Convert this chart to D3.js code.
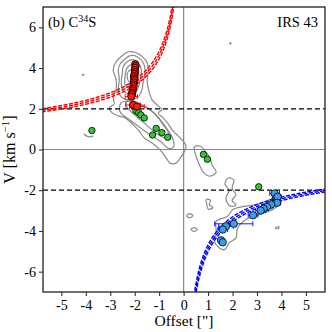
<!DOCTYPE html>
<html><head><meta charset="utf-8">
<script src="https://cdn.jsdelivr.net/npm/d3@7"></script>
<style>body{margin:0;background:#fff}svg{display:block}text{font-family:"Liberation Serif","Times New Roman",serif;fill:#000}</style>
</head><body>
<script>
// ---- data ----
const xTicks = [-5,-4,-3,-2,-1,0,1,2,3,4,5];
const yTicks = [-6,-4,-2,0,2,4,6];
const refLevels = [2,-2];
// Keplerian model curves: v = k / sqrt(|offset|) (three lines of the uncertainty band)
const redK = [4.45,4.64,4.83];
const blueK = [4.68,4.85,5.02];
// red points (offset, v, xerr)
const redX = [-1.98,-1.96,-1.99,-2.00,-1.99,-2.01,-2.03,-2.02,-2.02,-2.04,-2.05,-2.04,-2.07,-2.08,-2.10,-2.12,-2.14,-2.07,-1.91];
const redV = [4.20,4.10,4.01,3.90,3.80,3.71,3.60,3.50,3.41,3.30,3.20,3.11,3.00,2.90,2.80,2.71,2.60,2.19,2.11];
const redE = [0.08,0.08,0.08,0.08,0.08,0.08,0.08,0.08,0.08,0.08,0.08,0.08,0.1,0.1,0.12,0.15,0.25,0.3,0.3];
// green points
const greenX = [-1.95,-1.84,-1.75,-1.61,-3.75,-1.12,-0.89,-0.65,-1.27,0.81,0.97,3.07];
const greenV = [1.90,1.81,1.70,1.55,0.93,1.04,0.83,0.60,0.71,-0.24,-0.48,-1.83];
// blue points
const blueX = [3.72,3.78,3.80,3.84,3.82,3.58,3.41,3.27,3.15,2.84,2.05,1.73,1.60,1.53,1.60];
const blueV = [-2.16,-2.40,-2.55,-2.32,-2.62,-2.70,-2.82,-2.91,-3.00,-3.23,-3.65,-3.77,-3.93,-4.46,-4.56];
const blueE = [0.2,0.15,0.15,0.15,0.15,0.2,0.2,0.2,0.2,0.2,0.78,0.3,0.2,0.1,0.1];
// contour outlines (offset, v)
const contours = [
 [[-2.51,4.61],[-2.27,4.80],[-1.94,4.75],[-1.69,4.56],[-1.49,4.26],[-1.45,3.82],[-1.49,3.33],[-1.41,2.83],[-1.29,2.44],[-1.04,2.14],[-0.88,1.95],[-1.04,1.80],[-0.84,1.55],[-0.63,1.26],[-0.47,0.96],[-0.31,0.76],[-0.06,0.47],[0.10,0.17],[0.02,-0.12],[-0.14,-0.42],[-0.31,-0.67],[-0.55,-0.67],[-0.71,-0.42],[-0.96,-0.02],[-1.29,0.32],[-1.61,0.57],[-1.86,0.96],[-2.10,1.26],[-2.39,1.55],[-2.67,1.65],[-2.92,1.80],[-3.04,2.04],[-2.84,2.24],[-2.88,2.59],[-2.76,2.93],[-2.76,3.42],[-2.88,3.92],[-2.76,4.31]],
 [[-2.43,4.41],[-2.18,4.61],[-1.90,4.56],[-1.65,4.26],[-1.57,3.82],[-1.65,3.33],[-1.73,2.83],[-1.90,2.54],[-2.18,2.44],[-2.51,2.54],[-2.67,2.93],[-2.63,3.42],[-2.67,3.92],[-2.59,4.21]],
 [[-2.31,4.31],[-2.06,4.41],[-1.86,4.26],[-1.73,3.92],[-1.78,3.42],[-1.90,2.93],[-2.14,2.73],[-2.43,2.83],[-2.55,3.23],[-2.51,3.72],[-2.47,4.06]],
 [[-2.22,4.11],[-2.02,4.21],[-1.86,4.01],[-1.86,3.52],[-1.98,3.13],[-2.18,3.03],[-2.39,3.18],[-2.39,3.62],[-2.35,3.92]],
 [[-2.14,3.92],[-1.98,3.97],[-1.94,3.62],[-2.06,3.33],[-2.22,3.33],[-2.31,3.57],[-2.27,3.82]],
 [[-2.10,3.77],[-1.98,3.72],[-2.02,3.52],[-2.18,3.52]],
 [[-2.27,2.44],[-1.78,2.24],[-1.37,1.95],[-1.04,1.55],[-0.84,1.21],[-0.63,0.86],[-0.71,0.57],[-0.96,0.67],[-1.29,0.96],[-1.57,1.26],[-1.86,1.55],[-2.14,1.85],[-2.35,2.14]],
 [[-2.55,2.30],[-2.10,2.35],[-1.60,2.10],[-1.20,1.80],[-0.95,1.45],[-0.70,1.05],[-0.45,0.55],[-0.40,0.15],[-0.60,0.05],[-0.95,0.40],[-1.35,0.70],[-1.75,1.05],[-2.20,1.45],[-2.60,1.85]],
 [[0.43,0.12],[0.67,0.17],[0.84,-0.02],[1.08,-0.42],[1.16,-0.76],[1.33,-1.11],[1.08,-1.31],[0.80,-1.11],[0.63,-0.71],[0.51,-0.32]],
 [[1.82,-1.40],[2.06,-1.50],[1.98,-1.90],[2.14,-2.24],[1.98,-2.49],[2.14,-2.73],[1.90,-2.78],[1.73,-2.39],[1.86,-2.00],[1.69,-1.70]],
 [[1.33,-3.52],[1.80,-3.28],[2.01,-2.95],[2.55,-2.78],[2.96,-2.70],[3.37,-2.54],[3.78,-2.37],[3.91,-2.62],[3.64,-2.95],[3.09,-3.19],[2.55,-3.44],[2.21,-3.85],[2.14,-4.34],[1.87,-4.59],[1.67,-4.92],[1.46,-4.84],[1.26,-4.51],[1.33,-4.01]],
 [[0.12,-3.25],[0.24,-3.15],[0.38,-3.25],[0.24,-3.35]],
 [[0.30,-3.92],[0.44,-3.84],[0.56,-3.94],[0.42,-4.02]],
 [[0.92,-2.45],[1.10,-2.50],[1.05,-2.70],[1.20,-2.85],[1.00,-2.93],[0.95,-2.70]],
 [[3.78,-3.82],[3.90,-3.80],[3.88,-3.88],[3.76,-3.88]],
 [[-4.13,3.69],[-4.09,3.69],[-4.09,3.65],[-4.13,3.65]],
 [[1.89,5.23],[1.93,5.23],[1.93,5.19],[1.89,5.19]]
];
const openContours = [
 [[-4.07,0.76],[-3.98,0.67],[-3.82,0.62],[-3.69,0.67]]
];

// ---- layout ----
const W=332,H=332, L=43, R=325, T=7, B=292;
const x = d3.scaleLinear().domain([-5.75,5.78]).range([L,R]);
const y = d3.scaleLinear().domain([-7,7]).range([B,T]);
const svg = d3.select("body").append("svg").attr("width",W).attr("height",H);
svg.append("defs").append("clipPath").attr("id","clip").append("rect")
  .attr("x",L).attr("y",T).attr("width",R-L).attr("height",B-T);
const g = svg.append("g").attr("clip-path","url(#clip)");

// zero lines
g.append("line").attr("x1",x(0)).attr("x2",x(0)).attr("y1",T).attr("y2",B).attr("stroke","#888").attr("stroke-width",1.2);
g.append("line").attr("x1",L).attr("x2",R).attr("y1",y(0)).attr("y2",y(0)).attr("stroke","#888").attr("stroke-width",1.2);

// contours
const cl = d3.line().x(d=>x(d[0])).y(d=>y(d[1])).curve(d3.curveCatmullRomClosed.alpha(0.5));
const ol = d3.line().x(d=>x(d[0])).y(d=>y(d[1])).curve(d3.curveCatmullRom.alpha(0.5));
g.selectAll("path.c").data(contours).join("path").attr("class","c").attr("d",cl)
  .attr("fill","none").attr("stroke","#8a8a8a").attr("stroke-width",1.2);
g.selectAll("path.o").data(openContours).join("path").attr("class","o").attr("d",ol)
  .attr("fill","none").attr("stroke","#8a8a8a").attr("stroke-width",1.2);

// dashed reference lines
refLevels.forEach(v=>{
  g.append("line").attr("x1",L).attr("x2",R).attr("y1",y(v)).attr("y2",y(v))
   .attr("stroke","#000").attr("stroke-width",1.3).attr("stroke-dasharray","5,3");
});

// model curves
const ln = d3.line().x(d=>x(d[0])).y(d=>y(d[1]));
const xsNeg = d3.range(-5.8,-0.3,0.02), xsPos = d3.range(0.3,5.85,0.02);
redK.forEach(k=>{
  g.append("path").attr("d",ln(xsNeg.map(o=>[o,k/Math.sqrt(-o)])))
   .attr("fill","none").attr("stroke","#ff0000").attr("stroke-width",1.4).attr("stroke-dasharray","4,1.5");
});
blueK.forEach(k=>{
  g.append("path").attr("d",ln(xsPos.map(o=>[o,-k/Math.sqrt(o)])))
   .attr("fill","none").attr("stroke","#0000ff").attr("stroke-width",1.4).attr("stroke-dasharray","4,1.5");
});

// error bars
function errbars(xs,vs,es,col){
  xs.forEach((o,i)=>{
    const e=es[i], yy=y(vs[i]);
    g.append("line").attr("x1",x(o-e)).attr("x2",x(o+e)).attr("y1",yy).attr("y2",yy).attr("stroke",col).attr("stroke-width",0.9);
    [o-e,o+e].forEach(c=>g.append("line").attr("x1",x(c)).attr("x2",x(c)).attr("y1",yy-2.5).attr("y2",yy+2.5).attr("stroke",col).attr("stroke-width",0.9));
  });
}
errbars(redX,redV,redE,"#ff0000");
errbars(blueX,blueV,blueE,"#0000ff");

// points
function pts(xs,vs,r,col){
  g.selectAll(null).data(xs.map((o,i)=>[o,vs[i]])).join("circle")
   .attr("cx",d=>x(d[0])).attr("cy",d=>y(d[1])).attr("r",r)
   .attr("fill",col).attr("stroke","#000").attr("stroke-width",0.8);
}
pts(greenX,greenV,3.2,"#38c238");
pts(redX,redV,3.6,"#ff1a0a");
pts(blueX,blueV,3.7,"#3a9ee6");

// frame
svg.append("rect").attr("x",L).attr("y",T).attr("width",R-L).attr("height",B-T)
  .attr("fill","none").attr("stroke","#222").attr("stroke-width",1.3);

// axes
const xa = svg.append("g").attr("transform",`translate(0,${B})`)
  .call(d3.axisBottom(x).tickValues(xTicks).tickSize(4).tickFormat(d=>String(d).replace("−","-")));
const ya = svg.append("g").attr("transform",`translate(${L},0)`)
  .call(d3.axisLeft(y).tickValues(yTicks).tickSize(4).tickFormat(d=>String(d).replace("−","-")));
[xa,ya].forEach(a=>{
  a.select(".domain").remove();
  a.selectAll("line").attr("stroke","#222").attr("stroke-width",1);
  a.selectAll("text").attr("font-family","Liberation Serif, serif").attr("font-size",14).attr("fill","#000");
});
xa.selectAll("text").attr("dy","0.71em").attr("y",8);
ya.selectAll("text").attr("x",-7);

// titles
svg.append("text").attr("x",(L+R)/2).attr("y",326).attr("text-anchor","middle").attr("font-size",15.5).text('Offset ["]');
const yl = svg.append("text").attr("transform",`translate(15,${(T+B)/2}) rotate(-90)`).attr("text-anchor","middle").attr("font-size",16);
yl.append("tspan").text("V [km s");
yl.append("tspan").attr("font-size",11).attr("dy",-6).text("−1");
yl.append("tspan").attr("dy",6).text("]");

const lb = svg.append("text").attr("x",48).attr("y",27).attr("font-size",14.5);
lb.append("tspan").text("(b) C");
lb.append("tspan").attr("font-size",10).attr("dy",-5).text("34");
lb.append("tspan").attr("dy",5).text("S");
svg.append("text").attr("x",318).attr("y",27).attr("text-anchor","end").attr("font-size",14.5).text("IRS 43");
</script>
</body></html>
